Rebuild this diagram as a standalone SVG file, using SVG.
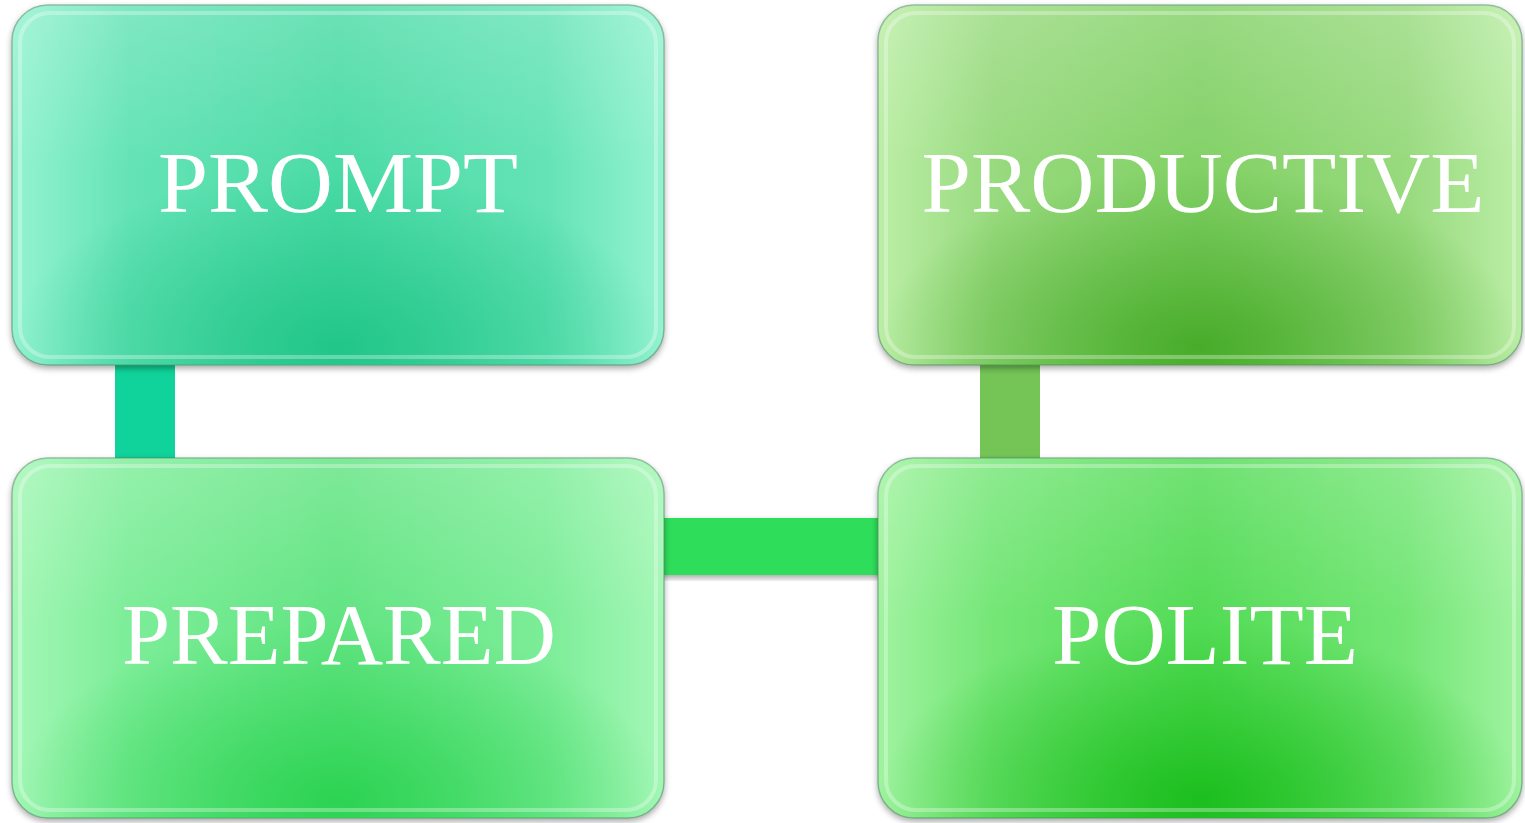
<svg xmlns="http://www.w3.org/2000/svg" width="1525" height="823" viewBox="0 0 1525 823">
<style>
.lbl{font-family:"Liberation Serif","Times New Roman",serif;font-size:86px;fill:#ffffff;text-anchor:middle}
.edge{fill:none;stroke:#ffffff;stroke-opacity:0.3;stroke-width:4}
.rim{stroke:#3f7f5a;stroke-opacity:0.5;stroke-width:1.5}
.top{fill:url(#gTop)}
</style>
<defs>
<filter id="sh" x="-5%" y="-5%" width="110%" height="115%">
<feDropShadow dx="0" dy="3" stdDeviation="3" flood-color="#000" flood-opacity="0.35"/>
</filter>
<linearGradient id="gTop" x1="0" y1="0" x2="0" y2="1">
<stop offset="0" stop-color="#ffffff" stop-opacity="0.18"/>
<stop offset="0.45" stop-color="#ffffff" stop-opacity="0"/>
</linearGradient>
<linearGradient id="hPrompt" x1="0" y1="0" x2="1" y2="0">
<stop offset="0" stop-color="#94f3d0"/>
<stop offset="0.18" stop-color="#64e3b6"/>
<stop offset="0.5" stop-color="#4cdba6"/>
<stop offset="0.82" stop-color="#64e3b6"/>
<stop offset="1" stop-color="#94f3d0"/>
</linearGradient>
<radialGradient id="dPrompt" cx="0.5" cy="0.95" r="0.5">
<stop offset="0" stop-color="#22c689" stop-opacity="1"/>
<stop offset="1" stop-color="#22c689" stop-opacity="0"/>
</radialGradient>
<linearGradient id="hProd" x1="0" y1="0" x2="1" y2="0">
<stop offset="0" stop-color="#bbeea6"/>
<stop offset="0.18" stop-color="#98da7e"/>
<stop offset="0.5" stop-color="#82d166"/>
<stop offset="0.82" stop-color="#98da7e"/>
<stop offset="1" stop-color="#bbeea6"/>
</linearGradient>
<radialGradient id="dProd" cx="0.5" cy="0.95" r="0.5">
<stop offset="0" stop-color="#48ac2a" stop-opacity="1"/>
<stop offset="1" stop-color="#48ac2a" stop-opacity="0"/>
</radialGradient>
<linearGradient id="hPrep" x1="0" y1="0" x2="1" y2="0">
<stop offset="0" stop-color="#a4f7b6"/>
<stop offset="0.18" stop-color="#7ced98"/>
<stop offset="0.5" stop-color="#62e482"/>
<stop offset="0.82" stop-color="#7ced98"/>
<stop offset="1" stop-color="#a4f7b6"/>
</linearGradient>
<radialGradient id="dPrep" cx="0.5" cy="0.95" r="0.5">
<stop offset="0" stop-color="#2cd352" stop-opacity="1"/>
<stop offset="1" stop-color="#2cd352" stop-opacity="0"/>
</radialGradient>
<linearGradient id="hPol" x1="0" y1="0" x2="1" y2="0">
<stop offset="0" stop-color="#a0f3a0"/>
<stop offset="0.18" stop-color="#74e676"/>
<stop offset="0.5" stop-color="#52db55"/>
<stop offset="0.82" stop-color="#74e676"/>
<stop offset="1" stop-color="#a0f3a0"/>
</linearGradient>
<radialGradient id="dPol" cx="0.5" cy="0.95" r="0.5">
<stop offset="0" stop-color="#1cbe1e" stop-opacity="1"/>
<stop offset="1" stop-color="#1cbe1e" stop-opacity="0"/>
</radialGradient>
</defs>
<rect width="1525" height="823" fill="#ffffff"/>
<g id="connectors">
<rect x="115" y="360" width="60" height="102" fill="#0fd39a"/>
<rect x="980" y="360" width="60" height="102" fill="#74c556"/>
<rect x="660" y="518" width="224" height="57" fill="#2ede5a" filter="url(#sh)"/>
</g>
<g id="node-prompt">
<rect class="rim" x="12" y="5" width="652" height="360" rx="36" fill="url(#hPrompt)" filter="url(#sh)"/>
<rect x="12" y="5" width="652" height="360" rx="36" fill="url(#dPrompt)"/>
<rect class="top" x="12" y="5" width="652" height="360" rx="36"/>
<rect class="edge" x="20" y="13" width="636" height="344" rx="30"/>
<text class="lbl" x="338" y="212" textLength="360" lengthAdjust="spacingAndGlyphs">PROMPT</text>
</g>
<g id="node-productive">
<rect class="rim" x="878" y="5" width="644" height="360" rx="36" fill="url(#hProd)" filter="url(#sh)"/>
<rect x="878" y="5" width="644" height="360" rx="36" fill="url(#dProd)"/>
<rect class="top" x="878" y="5" width="644" height="360" rx="36"/>
<rect class="edge" x="886" y="13" width="628" height="344" rx="30"/>
<text class="lbl" x="1203" y="212" textLength="563" lengthAdjust="spacingAndGlyphs">PRODUCTIVE</text>
</g>
<g id="node-prepared">
<rect class="rim" x="12" y="458" width="652" height="360" rx="36" fill="url(#hPrep)" filter="url(#sh)"/>
<rect x="12" y="458" width="652" height="360" rx="36" fill="url(#dPrep)"/>
<rect class="top" x="12" y="458" width="652" height="360" rx="36"/>
<rect class="edge" x="20" y="466" width="636" height="344" rx="30"/>
<text class="lbl" x="339" y="664" textLength="434" lengthAdjust="spacingAndGlyphs">PREPARED</text>
</g>
<g id="node-polite">
<rect class="rim" x="878" y="458" width="644" height="360" rx="36" fill="url(#hPol)" filter="url(#sh)"/>
<rect x="878" y="458" width="644" height="360" rx="36" fill="url(#dPol)"/>
<rect class="top" x="878" y="458" width="644" height="360" rx="36"/>
<rect class="edge" x="886" y="466" width="628" height="344" rx="30"/>
<text class="lbl" x="1205" y="664" textLength="306" lengthAdjust="spacingAndGlyphs">POLITE</text>
</g>
</svg>
